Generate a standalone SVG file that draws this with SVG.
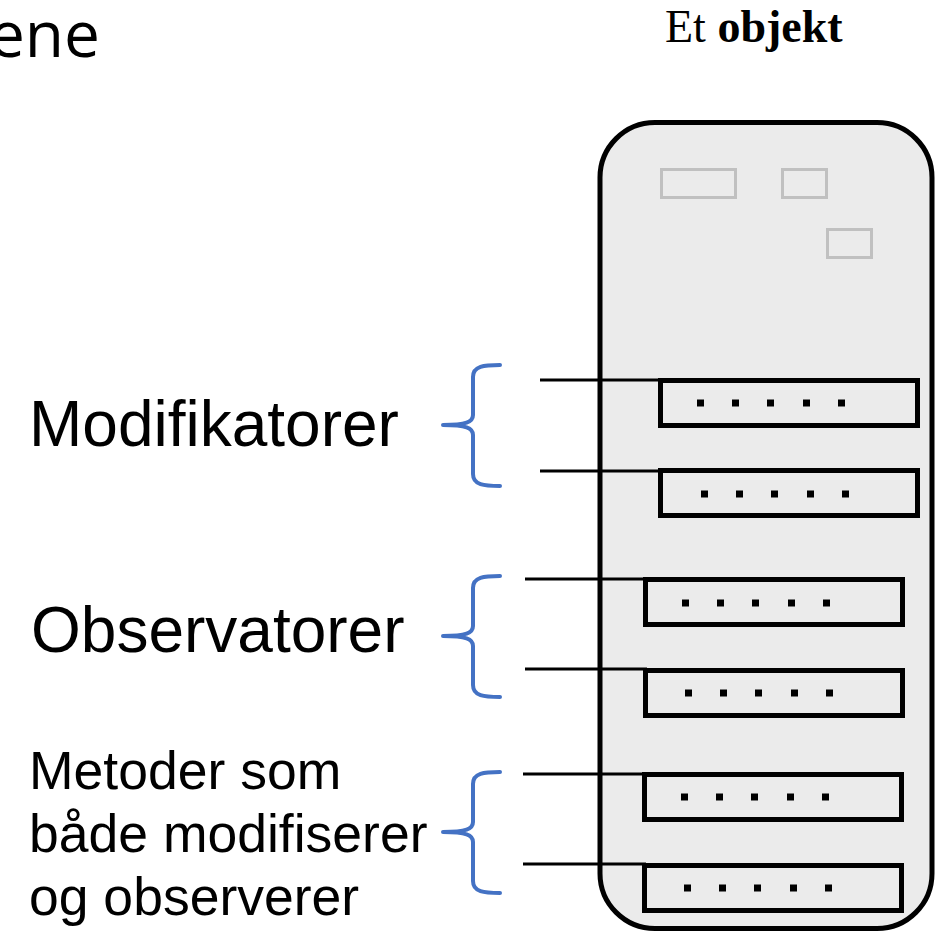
<svg xmlns="http://www.w3.org/2000/svg" width="944" height="933" viewBox="0 0 944 933">
  <style>
    .sans { font-family: "Liberation Sans", Arial, sans-serif; fill: #000; }
    .heading { font-family: "Open Sans", sans-serif; fill: #000; }
    .serif { font-family: "Liberation Serif", "Times New Roman", serif; fill: #000; }
    .obj { fill: #ebebeb; stroke: #000; stroke-width: 5; }
    .field { fill: none; stroke: #c0c0c0; stroke-width: 3; }
    .method { fill: #ebebeb; stroke: #000; stroke-width: 5; }
    .dot { fill: #000; }
    .lead { stroke: #000; stroke-width: 3; fill: none; }
    .brace { stroke: #4472c4; stroke-width: 4; fill: none; stroke-linecap: round; stroke-linejoin: round; }
  </style>
  <defs>
    <g id="dots">
      <rect class="dot" x="0" y="-3.5" width="7" height="7"/>
      <rect class="dot" x="35" y="-3.5" width="7" height="7"/>
      <rect class="dot" x="70" y="-3.5" width="7" height="7"/>
      <rect class="dot" x="106" y="-3.5" width="7" height="7"/>
      <rect class="dot" x="141" y="-3.5" width="7" height="7"/>
    </g>
    <path id="brace" class="brace" d="M500,0 C484,0 473,1 473,12 L473,50 C473,57 466,60 443,60 C466,60 473,63 473,70 L473,109 C473,120 484,121 500,121"/>
  </defs>

  <!-- heading fragments -->
  <text class="heading" x="100" y="57" font-size="64" text-anchor="end">ene</text>
  <text class="serif" x="665" y="42" font-size="46">Et <tspan font-weight="bold">objekt</tspan></text>

  <!-- the object -->
  <g id="object">
    <rect class="obj" x="600" y="122.5" width="332" height="806" rx="55" ry="55"/>
    <rect class="field" x="661.5" y="169.5" width="74" height="28"/>
    <rect class="field" x="782.5" y="169.5" width="44" height="28"/>
    <rect class="field" x="827.5" y="229.5" width="44" height="28"/>
  </g>

  <!-- methods -->
  <g id="method-1">
    <rect class="method" x="660.5" y="380.5" width="257" height="45"/>
    <use href="#dots" x="697" y="403"/>
  </g>
  <g id="method-2">
    <rect class="method" x="660.5" y="470.5" width="257" height="45"/>
    <use href="#dots" x="701" y="494"/>
  </g>
  <g id="method-3">
    <rect class="method" x="645.5" y="579.5" width="257" height="45"/>
    <use href="#dots" x="682" y="603"/>
  </g>
  <g id="method-4">
    <rect class="method" x="645.5" y="670.5" width="257" height="45"/>
    <use href="#dots" x="685" y="693"/>
  </g>
  <g id="method-5">
    <rect class="method" x="644.5" y="774.5" width="257" height="45"/>
    <use href="#dots" x="681" y="797"/>
  </g>
  <g id="method-6">
    <rect class="method" x="644.5" y="865.5" width="257" height="45"/>
    <use href="#dots" x="684" y="888"/>
  </g>

  <!-- group labels -->
  <g id="label-modifiers">
    <text class="sans" x="29" y="446" font-size="64">Modifikatorer</text>
  </g>
  <g id="label-observers">
    <text class="sans" x="31" y="652" font-size="64">Observatorer</text>
  </g>
  <g id="label-both">
    <text class="sans" font-size="53.5">
      <tspan x="29" y="789">Metoder som</tspan>
      <tspan x="29" y="852">både modifiserer</tspan>
      <tspan x="29" y="915">og observerer</tspan>
    </text>
  </g>

  <!-- connectors: braces and leader lines -->
  <g id="connectors">
    <use href="#brace" y="365"/>
    <use href="#brace" y="576"/>
    <use href="#brace" y="772"/>
    <line class="lead" x1="540" y1="380" x2="662" y2="380"/>
    <line class="lead" x1="540" y1="471" x2="662" y2="471"/>
    <line class="lead" x1="525" y1="579" x2="647" y2="579"/>
    <line class="lead" x1="525" y1="669" x2="647" y2="669"/>
    <line class="lead" x1="523" y1="774" x2="646" y2="774"/>
    <line class="lead" x1="523" y1="864" x2="646" y2="864"/>
  </g>
</svg>
